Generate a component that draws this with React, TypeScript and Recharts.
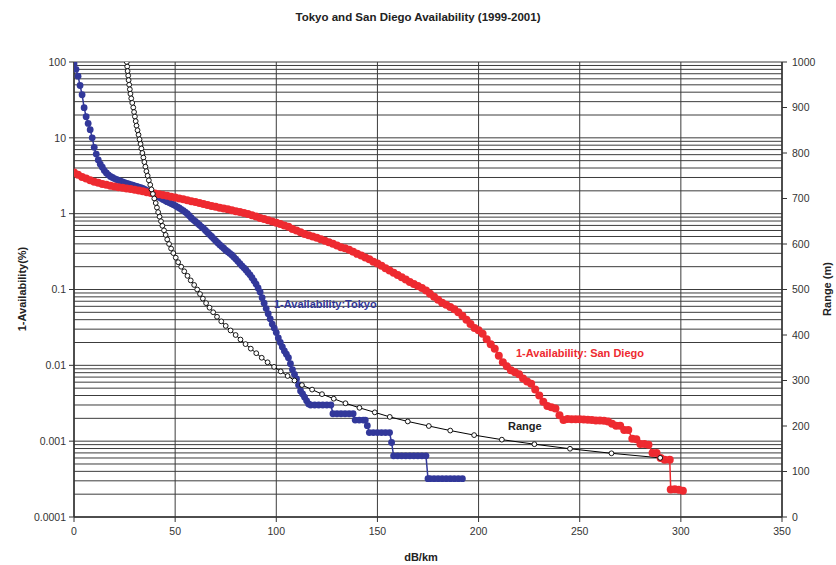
import React from 'react';
import { LineChart, Line, XAxis, YAxis, CartesianGrid } from 'recharts';

// Tokyo: specific attenuation (dB/km) vs. 1-Availability (%)
const tokyoAtten = [
  0, 1, 2, 3, 4, 5, 6, 7, 8, 9, 10, 11, 12, 13, 14, 15, 16, 17, 18, 19, 20,
  21, 22, 23, 24, 25, 26, 27, 28, 29, 30, 31, 32, 33, 34, 35, 36, 37, 38, 39,
  40, 41, 42, 43, 44, 45, 46, 47, 48, 49, 50, 51, 52, 53, 54, 55, 56, 57, 58,
  59, 60, 61, 62, 63, 64, 65, 66, 67, 68, 69, 70, 71, 72, 73, 74, 75, 76, 77,
  78, 79, 80, 81, 82, 83, 84, 85, 86, 87, 88, 89, 90, 91, 92, 93, 94, 95, 96,
  97, 98, 99, 100, 101, 102, 103, 104, 105, 106, 107, 108, 109, 110, 111, 112,
  113, 114, 115, 116, 117, 119, 121, 123, 125, 127, 128, 130, 132, 134, 136,
  138, 139, 141, 143, 144, 145, 146, 148, 150, 152, 154, 156, 157, 158, 160,
  162, 164, 166, 168, 170, 172, 174, 175, 176, 178, 180, 182, 184, 186, 188,
  190, 192,
];
const tokyoUnavail = [
  95, 80, 65, 49, 37, 25, 19, 15.5, 12.8, 10, 7.5, 6.1, 5.1, 4.5, 4.1, 3.7,
  3.45, 3.25, 3.1, 3.0, 2.9,
  2.82, 2.75, 2.68, 2.62, 2.56, 2.51, 2.46, 2.42, 2.37, 2.33, 2.28, 2.24, 2.2,
  2.15, 2.09, 2.03, 1.97, 1.91, 1.85, 1.78, 1.71, 1.65, 1.6, 1.54, 1.49, 1.44,
  1.4, 1.36, 1.32, 1.28, 1.23, 1.19, 1.14, 1.1, 1.05, 1.0, 0.94, 0.88, 0.83,
  0.79, 0.75, 0.71, 0.67, 0.64, 0.6, 0.565, 0.53, 0.5, 0.47, 0.44, 0.415, 0.39,
  0.37, 0.35, 0.33, 0.315, 0.3, 0.285, 0.268, 0.252, 0.235, 0.22, 0.205, 0.193,
  0.181, 0.168, 0.156, 0.143, 0.13, 0.118, 0.105, 0.093, 0.078, 0.066, 0.056,
  0.048, 0.041, 0.035, 0.031, 0.027, 0.023, 0.02, 0.0175, 0.0155, 0.014,
  0.0126, 0.0105, 0.0088, 0.0076, 0.0066, 0.0055, 0.0046, 0.0042, 0.0038,
  0.0034, 0.0031,
  0.003, 0.003, 0.003, 0.003, 0.003, 0.003, 0.0023, 0.0023, 0.0023, 0.0023,
  0.0023, 0.0023, 0.0019, 0.0019, 0.0019, 0.0019, 0.0016, 0.0013, 0.0013,
  0.0013, 0.0013, 0.0013, 0.0013, 0.00096, 0.00064, 0.00064, 0.00064, 0.00064,
  0.00064, 0.00064, 0.00064, 0.00064, 0.00064, 0.00032, 0.00032, 0.00032,
  0.00032, 0.00032, 0.00032, 0.00032, 0.00032, 0.00032, 0.00032,
];

// San Diego: specific attenuation (dB/km) vs. 1-Availability (%)
const sanDiegoAtten = [
  0, 2, 4, 6, 8, 10, 12, 14, 16, 18, 20, 22, 24, 26, 28, 30, 32, 34, 36, 38,
  40, 42, 44, 46, 48, 50, 52, 54, 56, 58, 60, 62, 64, 66, 68, 70, 72, 74, 76,
  78, 80, 82, 84, 86, 88, 90, 92, 94, 96, 98, 100, 102, 104, 106, 108, 110,
  112, 114, 116, 118, 120, 122, 124, 126, 128, 130, 132, 134, 136, 138, 140,
  142, 144, 146, 148, 150, 152, 154, 156, 158, 160, 162, 164, 166, 168, 170,
  172, 174, 176, 178, 180, 182, 184, 186, 188, 190, 192, 194, 196, 198, 200,
  202, 204, 206, 208, 210, 212, 214, 216, 218, 220, 222, 224, 226, 228, 230,
  232, 234, 236, 238, 240, 242, 244, 246, 248, 250, 252, 254, 256, 258, 260,
  262, 264, 266, 268, 270, 272, 274, 276, 278, 280, 282, 284, 286, 288, 290,
  292, 294.5, 295, 297, 299, 301,
];
const sanDiegoUnavail = [
  3.5, 3.25, 3.05, 2.9, 2.75, 2.63, 2.55, 2.47, 2.4, 2.34, 2.28, 2.23, 2.19,
  2.15, 2.11, 2.07, 2.02, 1.97, 1.92, 1.88, 1.84, 1.8, 1.76, 1.72, 1.67, 1.63,
  1.59, 1.55, 1.5, 1.46, 1.42, 1.38, 1.34, 1.3, 1.26, 1.23, 1.2, 1.17, 1.14,
  1.11, 1.08, 1.05, 1.02, 0.99, 0.95, 0.92, 0.88, 0.85, 0.82, 0.79, 0.76,
  0.73, 0.7, 0.67, 0.63, 0.6, 0.57, 0.54, 0.52, 0.5, 0.48, 0.46, 0.44, 0.42,
  0.4, 0.38, 0.36, 0.35, 0.335, 0.315, 0.295, 0.28, 0.265, 0.25, 0.233, 0.22,
  0.205, 0.19, 0.178, 0.166, 0.155, 0.145, 0.135, 0.126, 0.118, 0.111, 0.105,
  0.097, 0.088, 0.08, 0.073, 0.067, 0.063, 0.059, 0.055, 0.05, 0.045, 0.04,
  0.035, 0.031, 0.029, 0.026, 0.022, 0.019, 0.0165, 0.0134, 0.011, 0.0097,
  0.0086, 0.0081, 0.0076, 0.0067, 0.0061, 0.0057, 0.0048, 0.004, 0.0033,
  0.0029, 0.0028, 0.0027, 0.0022, 0.0019, 0.00196, 0.00195, 0.00195, 0.00194,
  0.00193, 0.00191, 0.0019, 0.00188, 0.00187, 0.00186, 0.00182, 0.0017,
  0.0016, 0.0016, 0.0014, 0.0014, 0.00108, 0.00106, 0.00092, 0.00092, 0.0009,
  0.0007, 0.0007, 0.0006, 0.00057, 0.00057, 0.00023, 0.000232, 0.000228,
  0.000222,
];

// Link range (m) reached at each specific attenuation (dB/km)
const rangeMeters = [
  1000, 990, 980, 970, 960, 950, 940, 930, 920, 910, 900, 890, 880, 870, 860,
  850, 840, 830, 820, 810, 800, 790, 780, 770, 760, 750, 740, 730, 720, 710,
  700, 690, 680, 670, 660, 650, 640, 630, 620, 610, 600, 590, 580, 570, 560,
  550, 540, 530, 520, 510, 500, 490, 480, 470, 460, 450, 440, 430, 420, 410,
  400, 390, 380, 370, 360, 350, 340, 330, 320, 310, 300, 290, 280, 270, 260,
  250, 240, 230, 220, 210, 200, 190, 180, 170, 160, 150, 140, 130,
];
const rangeAtten = [
  26.1, 26.3, 26.5, 26.8, 27.0, 27.3, 27.6, 27.9, 28.3, 28.8, 29.3, 29.7,
  30.1, 30.5, 30.9, 31.4, 31.9, 32.4, 32.9, 33.3, 33.8, 34.3, 34.8, 35.3,
  35.8, 36.4, 37.0, 37.7, 38.3, 39.0, 39.7, 40.4, 41.0, 41.6, 42.3, 43.0,
  43.7, 44.5, 45.3, 46.1, 47.0, 48.0, 49.1, 50.3, 51.5, 53.0, 54.5, 56.1,
  57.7, 59.4, 60.9, 62.3, 63.7, 65.3, 67.0, 68.8, 70.7, 72.8, 75.0, 77.4,
  79.9, 82.3, 84.8, 87.4, 90.1, 92.8, 95.7, 98.9, 102.2, 105.6, 109.0, 112.7,
  117.7, 122.6, 128.4, 134.2, 141.1, 148.7, 156.1, 165.0, 175.4, 186.0, 197.8,
  211.5, 227.6, 245.2, 265.7, 289.8,
];

const attenTicks = [0, 50, 100, 150, 200, 250, 300, 350];
const availTicks = [0.0001, 0.001, 0.01, 0.1, 1, 10, 100];
const rangeTicks = [0, 100, 200, 300, 400, 500, 600, 700, 800, 900, 1000];
const gridDecades = [0.0001, 0.001, 0.01, 0.1, 1, 10];
const gridSteps = [1, 2, 3, 4, 5, 6, 7, 8, 9];

const BLUE = '#32389a';
const RED = '#ee2a30';
const AXIS = '#333333';
const GRID = '#3c3c3c';
const FONT = '"Liberation Sans", Arial, sans-serif';

const tokyoData = tokyoAtten.map((x, i) => ({ x, v: tokyoUnavail[i] }));
const sanDiegoData = sanDiegoAtten.map((x, i) => ({ x, v: sanDiegoUnavail[i] }));
const rangeData = rangeAtten.map((x, i) => ({ x, r: rangeMeters[i] }));
const logGridTicks = [
  ...gridDecades.flatMap((d) => gridSteps.map((s) => d * s)),
  100,
];

const tickStyle = { fontSize: 10.5, fill: AXIS, fontFamily: FONT };

export default function App() {
  return (
    <div
      style={{
        position: 'absolute',
        left: 0,
        top: 0,
        width: 836,
        height: 565,
        background: '#fff',
        fontFamily: FONT,
      }}
    >
      <LineChart
        width={836}
        height={565}
        margin={{ top: 62, right: 14, bottom: 18, left: 30 }}
      >
        <CartesianGrid
          yAxisId="grid"
          stroke={GRID}
          strokeWidth={1}
          horizontal={true}
          vertical={true}
        />
        <XAxis
          dataKey="x"
          type="number"
          domain={[0, 350]}
          ticks={attenTicks}
          allowDataOverflow
          height={30}
          tickSize={5}
          tickMargin={6}
          tick={tickStyle}
          stroke={AXIS}
          axisLine={{ stroke: AXIS, strokeWidth: 1.5 }}
        />
        <YAxis
          yAxisId="left"
          scale="log"
          domain={[0.0001, 100]}
          ticks={availTicks}
          allowDataOverflow
          width={44}
          tickSize={5}
          tickMargin={3}
          tick={tickStyle}
          tickFormatter={(v: number) => String(v)}
          stroke={AXIS}
          axisLine={{ stroke: AXIS, strokeWidth: 1.5 }}
        />
        <YAxis
          yAxisId="grid"
          scale="log"
          domain={[0.0001, 100]}
          ticks={logGridTicks}
          interval={0}
          allowDataOverflow
          width={0}
          hide
        />
        <YAxis
          yAxisId="right"
          orientation="right"
          domain={[0, 1000]}
          ticks={rangeTicks}
          allowDataOverflow
          width={40}
          tickSize={5}
          tickMargin={5}
          tick={tickStyle}
          stroke={AXIS}
          axisLine={{ stroke: AXIS, strokeWidth: 1.5 }}
        />
        <Line
          yAxisId="left"
          data={tokyoData}
          dataKey="v"
          type="linear"
          stroke={BLUE}
          strokeWidth={1.5}
          dot={{ r: 3.4, fill: BLUE, stroke: BLUE, strokeWidth: 0 }}
          isAnimationActive={false}
        />
        <Line
          yAxisId="left"
          data={sanDiegoData}
          dataKey="v"
          type="linear"
          stroke={RED}
          strokeWidth={1.5}
          dot={{ r: 4, fill: RED, stroke: RED, strokeWidth: 0 }}
          isAnimationActive={false}
        />
        <Line
          yAxisId="right"
          data={rangeData}
          dataKey="r"
          type="linear"
          stroke="#000"
          strokeWidth={1}
          dot={{ r: 2.4, fill: '#fff', stroke: '#000', strokeWidth: 0.9 }}
          isAnimationActive={false}
        />
      </LineChart>
      <svg
        width={836}
        height={565}
        style={{ position: 'absolute', left: 0, top: 0, pointerEvents: 'none' }}
        fontFamily={FONT}
        fontWeight="bold"
      >
        <text x={418} y={21} textAnchor="middle" fontSize={11.5} fill="#222">
          Tokyo and San Diego Availability (1999-2001)
        </text>
        <text
          x={26}
          y={289}
          textAnchor="middle"
          fontSize={11}
          fill="#222"
          transform="rotate(-90, 26, 289)"
        >
          1-Availability(%)
        </text>
        <text
          x={831}
          y={289}
          textAnchor="middle"
          fontSize={11}
          fill="#222"
          transform="rotate(-90, 831, 289)"
        >
          Range (m)
        </text>
        <text x={421} y={561} textAnchor="middle" fontSize={11} fill="#222">
          dB/km
        </text>
        <text x={274} y={308} fontSize={11} fill={BLUE}>
          1-Availability:Tokyo
        </text>
        <text x={516} y={357} fontSize={11} fill={RED}>
          1-Availability: San Diego
        </text>
        <text x={508} y={430} fontSize={11} fill="#222">
          Range
        </text>
      </svg>
    </div>
  );
}
